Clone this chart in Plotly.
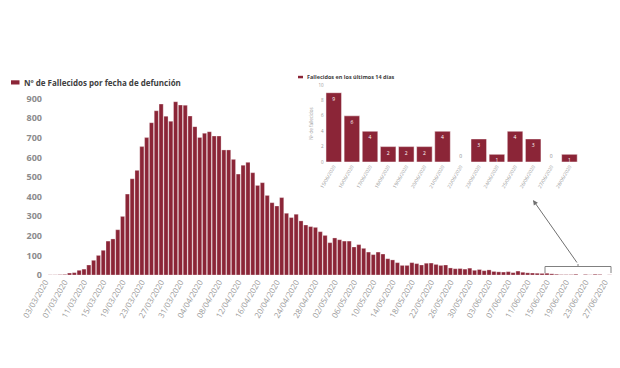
import plotly.graph_objects as go
import pandas as pd

# ---------------- data ----------------
dates = pd.date_range("2020-03-03", "2020-06-28").strftime("%d/%m/%Y").tolist()

deaths = [
    0, 1, 1, 2, 3, 10, 12, 24, 30, 51, 75, 100, 126, 173, 184, 231, 299, 413, 491, 534,
    655, 701, 777, 838, 872, 810, 784, 884, 867,
    866, 811, 757, 702, 723, 731, 709, 709, 638, 638, 590, 515, 560, 575, 522, 457, 471,
    406, 369, 352, 395, 315, 293, 310, 276, 255, 247, 243, 221,
    202, 165, 189, 180, 173, 173, 143, 155, 136, 117, 104, 117, 107, 83, 77, 63, 49, 49,
    63, 58, 51, 60, 61, 54, 49, 51,
    36, 32, 33, 30, 35, 24, 28, 22, 26, 18, 16, 15, 17, 12, 20, 14, 11, 10, 9, 8,
    9, 6, 4, 2, 2, 2, 4, 0, 3, 1, 4, 3, 0, 1,
]
tick_dates = dates[::4]

last14_dates = dates[-14:]
last14 = [9, 6, 4, 2, 2, 2, 4, 0, 3, 1, 4, 3, 0, 1]

main_label = "Nº de Fallecidos por fecha de defunción"
inset_label = "Fallecidos en los últimos 14 días"
inset_ytitle = "Nº de fallecidos"

# ---------------- styling ----------------
OFF = 8                      # page body margin
W, H = 620 - OFF, 368 - OFF
PLOT_L, PLOT_R, PLOT_T, PLOT_B = 43, 612, 79, 275   # page pixels
ML, MT = PLOT_L - OFF, PLOT_T - OFF
MR, MB = W - (PLOT_R - OFF), H - (PLOT_B - OFF)
PW, PH = PLOT_R - PLOT_L, PLOT_B - PLOT_T
BAR = "#8B2537"
TICK = "#8c8c8c"
FONT = "Open Sans"


def fx(px):
    return (px - PLOT_L) / PW


def fy(py):
    return (PLOT_B - py) / PH


fig = go.Figure()

fig.add_trace(go.Bar(
    x=dates, y=deaths, marker=dict(color=BAR, line=dict(color="white", width=0.3)),
    xaxis="x", yaxis="y", showlegend=False, hoverinfo="x+y",
))

fig.add_trace(go.Bar(
    x=last14_dates, y=last14,
    marker=dict(color=BAR, line=dict(color="white", width=0.5)),
    text=[str(v) for v in last14],
    textposition=["inside" if v > 0 else "outside" for v in last14],
    insidetextanchor="end", constraintext="none",
    insidetextfont=dict(color="white", size=5, family=FONT),
    outsidetextfont=dict(color="#888888", size=5, family=FONT),
    textangle=0, cliponaxis=False,
    xaxis="x2", yaxis="y2", showlegend=False,
))

fig.update_layout(
    width=W, height=H,
    margin=dict(l=ML, r=MR, t=MT, b=MB),
    paper_bgcolor="white", plot_bgcolor="white",
    bargap=0.14,
    font=dict(family=FONT, color=TICK),
    xaxis=dict(
        type="category", domain=[0, 1], range=[-0.5, len(dates) - 0.5],
        tickmode="array", tickvals=tick_dates, ticktext=tick_dates,
        tickangle=-60, tickfont=dict(size=8, color="#999999", family=FONT),
        showgrid=False, zeroline=False, showline=False, ticks="",
    ),
    yaxis=dict(
        range=[0, 1000], tickvals=list(range(0, 1000, 100)),
        tickfont=dict(size=9, color=TICK, family=FONT, weight="bold"),
        showgrid=False, zeroline=False, showline=False, ticks="",
    ),
    xaxis2=dict(
        type="category", anchor="y2",
        domain=[fx(324.7), fx(578.5)], range=[-0.5, 13.5],
        tickangle=-60, tickfont=dict(size=4.8, color="#999999", family=FONT),
        showgrid=False, zeroline=False, showline=False, ticks="",
    ),
    yaxis2=dict(
        anchor="x2", domain=[fy(162), fy(85)], range=[0, 10],
        tickvals=[0, 2, 4, 6, 8, 10],
        tickfont=dict(size=4.5, color="#999999", family=FONT),
        title=dict(text=inset_ytitle, font=dict(size=4.5, color="#999999"), standoff=4),
        showgrid=False, zeroline=False, showline=False, ticks="",
    ),
    shapes=[
        # main legend swatch
        dict(type="rect", xref="paper", yref="paper",
             x0=fx(11), x1=fx(19.5), y0=fy(84.5), y1=fy(80.3),
             fillcolor=BAR, line=dict(width=0)),
        # inset legend swatch
        dict(type="rect", xref="paper", yref="paper",
             x0=fx(298), x1=fx(303), y0=fy(78.3), y1=fy(75.8),
             fillcolor=BAR, line=dict(width=0)),
        # bracket under last 14 days
        dict(type="path", xref="paper", yref="paper",
             path=f"M {fx(545)},{fy(273)} L {fx(545)},{fy(266.5)} L {fx(611)},{fy(266.5)} L {fx(611)},{fy(273)}",
             line=dict(color="#808080", width=1)),
        dict(type="line", xref="paper", yref="paper",
             x0=fx(578), x1=fx(578), y0=fy(266.5), y1=fy(264),
             line=dict(color="#808080", width=1)),
    ],
    annotations=[
        dict(text=main_label, xref="paper", yref="paper", x=fx(22), y=fy(82.5),
             xanchor="left", yanchor="middle", showarrow=False,
             font=dict(size=8, color="#404040", family=FONT, weight="bold")),
        dict(text=inset_label, xref="paper", yref="paper", x=fx(305), y=fy(77),
             xanchor="left", yanchor="middle", showarrow=False,
             font=dict(size=5.5, color="#404040", family=FONT, weight="bold")),
        dict(text="", xref="x domain", yref="y domain", x=fx(533), y=fy(200),
             ax=fx(578), ay=fy(264), axref="x domain", ayref="y domain",
             showarrow=True, arrowhead=2, arrowsize=1, arrowwidth=1, arrowcolor="#707070"),
    ],
)

fig.write_html("out.html")
